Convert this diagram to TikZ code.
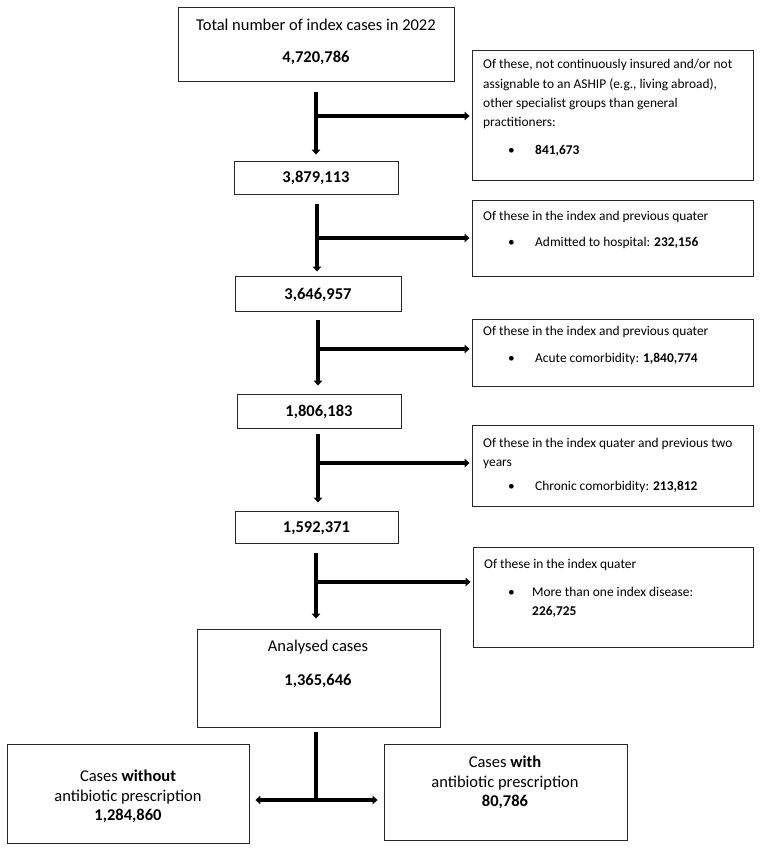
\documentclass[tikz,border=0pt]{standalone}
\usepackage{fontspec}
\setmainfont{Carlito}
\usetikzlibrary{arrows.meta,fit,calc}
\begin{document}
\begin{tikzpicture}[x=1pt,y=-1pt,
  box/.style={draw=black!85, line width=0.9pt, inner sep=0pt},
  main/.style={font=\fontsize{16.5}{20}\selectfont, inner sep=0pt, anchor=base},
  side/.style={font=\fontsize{13.4}{19}\selectfont, inner sep=0pt, anchor=base west},
  flow/.style={line width=3.6pt, -{Triangle[width=8.5pt,length=5pt]}},
  twoway/.style={line width=3.6pt, {Triangle[width=8.5pt,length=5pt]}-{Triangle[width=8.5pt,length=5pt]}},
  bar/.style={line width=3.6pt},
]
\useasboundingbox (0,0) rectangle (762,850);

% main column boxes
\node[box, fit={(178,7) (454,81)}] (T) {};
\node[main] (Tt) at (316,31) {Total number of index cases in 2022};
\node[main] (Tn) at (316,63) {\bfseries 4,720,786};

\node[box, fit={(234,161) (398,194)}] (B1) {};
\node[main] (B1t) at (B1.center) [yshift=-5.5pt] {\bfseries 3,879,113};

\node[box, fit={(235,276) (401,311)}] (B2) {};
\node[main] (B2t) at (B2.center) [yshift=-5.5pt] {\bfseries 3,646,957};

\node[box, fit={(237,394) (401,428)}] (B3) {};
\node[main] (B3t) at (B3.center) [yshift=-5.5pt] {\bfseries 1,806,183};

\node[box, fit={(235,511) (398,543)}] (B4) {};
\node[main] (B4t) at (B4.center) [yshift=-5.5pt] {\bfseries 1,592,371};

\node[box, fit={(197,629) (440,727)}] (A) {};
\node[main] (At) at (318,651) {Analysed cases};
\node[main] (An) at (318,685) {\bfseries 1,365,646};

\node[box, fit={(7,744) (249,843)}] (L) {};
\node[main] (L1) at (128,781) {Cases \textbf{without}};
\node[main] (L2) at (128,801) {antibiotic prescription};
\node[main] (L3) at (128,820) {\bfseries 1,284,860};

\node[box, fit={(384,744) (627,840)}] (R) {};
\node[main] (R1) at (505,767) {Cases \textbf{with}};
\node[main] (R2) at (505,787) {antibiotic prescription};
\node[main] (R3) at (505,806) {\bfseries 80,786};

% side boxes
\node[box, fit={(472,50) (753,180)}] (S1) {};
\node[side] (S1a) at (483,69) {Of these, not continuously insured and/or not};
\node[side] (S1b) at (483,88.5) {assignable to an ASHIP (e.g., living abroad),};
\node[side] (S1c) at (483,108) {other specialist groups than general};
\node[side] (S1d) at (483,127) {practitioners:};
\node[side] (S1e) at (508,155) {\textbullet};
\node[side] (S1f) at (535,155) {\bfseries 841,673};

\node[box, fit={(472,200) (753,276)}] (S2) {};
\node[side] (S2a) at (483,220) {Of these in the index and previous quater};
\node[side] (S2b) at (508,246) {\textbullet};
\node[side] (S2c) at (535,246) {Admitted to hospital: \textbf{232,156}};

\node[box, fit={(472,319) (753,386)}] (S3) {};
\node[side] (S3a) at (483,335) {Of these in the index and previous quater};
\node[side] (S3b) at (508,362) {\textbullet};
\node[side] (S3c) at (535,362) {Acute comorbidity: \textbf{1,840,774}};

\node[box, fit={(472,425) (753,506)}] (S4) {};
\node[side] (S4a) at (483,447) {Of these in the index quater and previous two};
\node[side] (S4b) at (483,466) {years};
\node[side] (S4c) at (508,490) {\textbullet};
\node[side] (S4d) at (535,490) {Chronic comorbidity: \textbf{213,812}};

\node[box, fit={(473,547) (753,647)}] (S5) {};
\node[side] (S5a) at (484,568) {Of these in the index quater};
\node[side] (S5b) at (508,596) {\textbullet};
\node[side] (S5c) at (532,596) {More than one index disease:};
\node[side] (S5d) at (532,615) {\bfseries 226,725};

% connectors
\coordinate (j1) at (316,116);
\coordinate (j2) at (317,238);
\coordinate (j3) at (318,349);
\coordinate (j4) at (318,463);
\coordinate (j5) at (316,582);
\coordinate (j6) at (316,800);

\draw[flow] ($(j1 |- T.south)+(0,11)$) -- ($(j1 |- B1.north)+(0,-6)$);
\draw[flow] (j1) -- ($(j1 -| S1.west)+(-2,0)$);

\draw[flow] ($(j2 |- B1.south)+(0,10)$) -- ($(j2 |- B2.north)+(0,-4)$);
\draw[flow] (j2) -- ($(j2 -| S2.west)+(-2,0)$);

\draw[flow] ($(j3 |- B2.south)+(0,9)$) -- ($(j3 |- B3.north)+(0,-8)$);
\draw[flow] (j3) -- ($(j3 -| S3.west)+(-2,0)$);

\draw[flow] ($(j4 |- B3.south)+(0,6)$) -- ($(j4 |- B4.north)+(0,-8)$);
\draw[flow] (j4) -- ($(j4 -| S4.west)+(-2,0)$);

\draw[flow] ($(j5 |- B4.south)+(0,10)$) -- ($(j5 |- A.north)+(0,-10)$);
\draw[flow] (j5) -- ($(j5 -| S5.west)+(-2,0)$);

\draw[bar] ($(j6 |- A.south)+(0,5)$) -- (j6);
\draw[twoway] ($(L.east |- j6)+(6,0)$) -- ($(R.west |- j6)+(-6,0)$);
\end{tikzpicture}
\end{document}
